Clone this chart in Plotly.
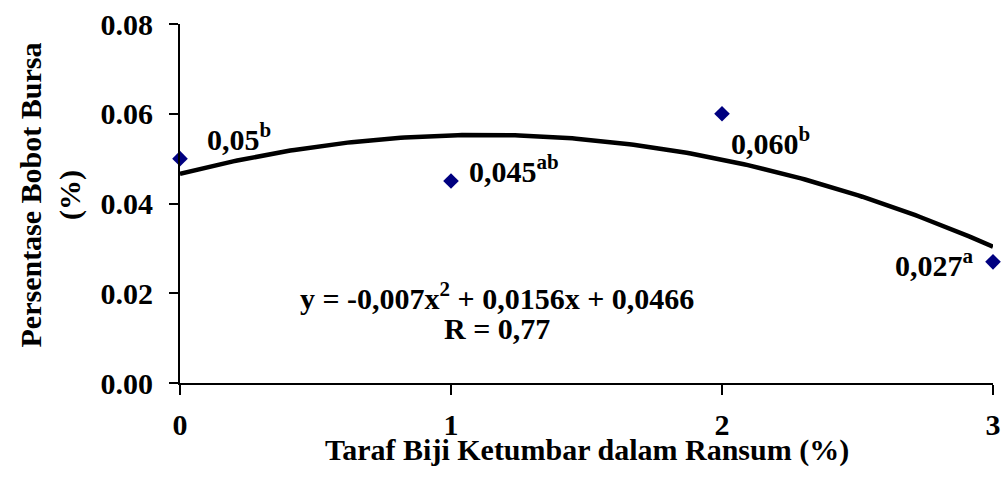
import numpy as np
import plotly.graph_objects as go

# Data
levels = [0, 1, 2, 3]
values = [0.050, 0.045, 0.060, 0.027]
point_labels = ["0,05<sup>b</sup>", "0,045<sup>ab</sup>", "0,060<sup>b</sup>", "0,027<sup>a</sup>"]
trend_coef = [-0.007, 0.0156, 0.0466]  # y = a x^2 + b x + c
x_ticks = [0, 1, 2, 3]
y_ticks = [0.00, 0.02, 0.04, 0.06, 0.08]
equation_text = "y = -0,007x<sup>2</sup> + 0,0156x + 0,0466"
r_text = "R = 0,77"
x_title = "Taraf Biji Ketumbar dalam Ransum (%)"
y_title = "Persentase Bobot Bursa<br>(%)"

FONT = "Liberation Serif"
FS = 30

xs = np.linspace(0, 3, 200)
ys = np.polyval(trend_coef, xs)

fig = go.Figure()
fig.add_trace(go.Scatter(x=xs, y=ys, mode="lines",
                         line=dict(color="black", width=4.5), hoverinfo="skip"))
fig.add_trace(go.Scatter(x=levels, y=values, mode="markers",
                         marker=dict(symbol="diamond", size=12, color="#000080"),
                         cliponaxis=False))

# label offsets (pixels) and anchors
offsets = [(25, 22, "left"), (16, 12, "left"), (7, -27, "left"), (-17, -1, "right")]
for x, y, t, (dx, dy, anc) in zip(levels, values, point_labels, offsets):
    fig.add_annotation(x=x, y=y, text=t, showarrow=False, xanchor=anc, yanchor="middle",
                       xshift=dx, yshift=dy,
                       font=dict(family=FONT, size=FS, color="black", weight="bold"))

fig.add_annotation(x=1.17, y=0.0193, text=equation_text, showarrow=False,
                   xanchor="center", yanchor="middle",
                   font=dict(family=FONT, size=FS, color="black", weight="bold"))
fig.add_annotation(x=1.17, y=0.0122, text=r_text, showarrow=False,
                   xanchor="center", yanchor="middle",
                   font=dict(family=FONT, size=FS, color="black", weight="bold"))

fig.add_annotation(x=0.5, y=0, xref="paper", yref="paper", text=x_title, showarrow=False,
                   xanchor="center", yanchor="middle", yshift=-67,
                   font=dict(family=FONT, size=FS, color="black", weight="bold"))
fig.add_annotation(x=0, y=0.5, xref="paper", yref="paper", text=y_title, showarrow=False,
                   xanchor="center", yanchor="middle", xshift=-130, yshift=8,
                   textangle=-90,
                   font=dict(family=FONT, size=FS, color="black", weight="bold"))

axis_common = dict(showline=True, linecolor="black", linewidth=2, showgrid=False,
                   zeroline=False, ticks="outside", tickcolor="black", tickwidth=2,
                   tickfont=dict(family=FONT, size=FS, color="black", weight="bold"))
fig.update_xaxes(range=[0, 3], tickvals=x_ticks, ticklen=10, ticklabelstandoff=4, **axis_common)
fig.update_yaxes(range=[0, 0.08], tickvals=y_ticks, tickformat=".2f", ticklen=9,
                 ticklabelstandoff=10, **axis_common)

fig.update_layout(width=1002, height=477, showlegend=False,
                  plot_bgcolor="white", paper_bgcolor="white",
                  margin=dict(l=180, r=9, t=24, b=94, autoexpand=False))
fig.write_html("out.html", config={"displayModeBar": False},
               post_script="document.body.style.margin='0';document.body.style.overflow='hidden';")
